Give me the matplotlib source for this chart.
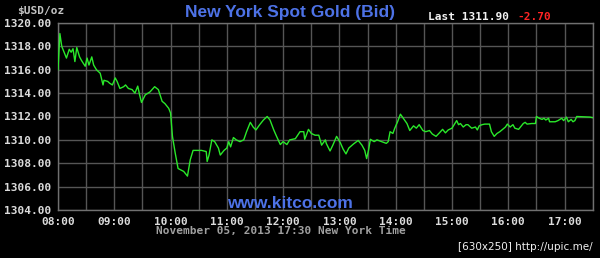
"""
New York spot gold (bid), intraday chart in the kitco style.
"""

import matplotlib

matplotlib.use("Agg")
import matplotlib.pyplot as plt
from matplotlib.ticker import FixedLocator, FuncFormatter

# minutes after 08:00 and bid price
minutes = [
    0, 2, 4, 7, 9, 12, 14, 16, 18, 20, 23, 25, 29, 31, 33, 36, 38, 41, 45, 48,
    49, 53, 55, 58, 61, 63, 66, 70, 72, 75, 79, 82, 85, 87, 89, 93, 96, 98,
    103, 107, 111, 114, 118, 120, 122, 125, 128, 134, 138, 141, 144, 148, 153,
    158, 159, 161, 164, 167, 171, 173, 177, 180, 182, 184, 187, 190, 194, 198,
    201, 205, 208, 211, 215, 219, 223, 226, 230, 233, 237, 240, 244, 247, 253,
    258, 262, 263, 267, 270, 274, 278, 281, 285, 286, 290, 293, 297, 301, 304,
    307, 310, 315, 320, 324, 327, 329, 331, 333, 337, 340, 345, 350, 352, 354,
    357, 359, 362, 365, 368, 372, 375, 379, 382, 385, 389, 392, 396, 399, 403,
    406, 410, 413, 416, 420, 423, 425, 427, 429, 432, 435, 437, 441, 445, 447,
    449, 452, 455, 460, 462, 465, 468, 471, 474, 477, 479, 482, 485, 487, 491,
    493, 496, 498, 500, 505, 509, 510, 513, 516, 518, 520, 523, 524, 530, 533,
    537, 539, 542, 544, 547, 549, 551, 553, 567, 570,
]
prices = [
    1316.0, 1319.1, 1318.0, 1317.4, 1317.0, 1317.75, 1317.5, 1317.8, 1316.7,
    1317.9, 1317.1, 1316.8, 1316.3, 1317.0, 1316.4, 1317.1, 1316.4, 1316.0,
    1315.7, 1314.7, 1315.1, 1315.0, 1314.85, 1314.7, 1315.3, 1315.0, 1314.4,
    1314.55, 1314.7, 1314.4, 1314.3, 1314.0, 1314.6, 1313.85, 1313.2, 1313.85,
    1314.0, 1314.1, 1314.55, 1314.3, 1313.3, 1313.1, 1312.7, 1312.3, 1310.3,
    1308.85, 1307.55, 1307.3, 1306.9, 1308.3, 1309.1, 1309.1, 1309.1, 1309.0,
    1308.15, 1308.7, 1310.0, 1309.85, 1309.3, 1308.7, 1309.1, 1309.3, 1309.85,
    1309.4, 1310.2, 1310.0, 1309.85, 1310.0, 1310.7, 1311.5, 1311.1, 1310.85,
    1311.3, 1311.7, 1312.0, 1311.7, 1310.85, 1310.3, 1309.6, 1309.85, 1309.6,
    1310.0, 1310.1, 1310.7, 1310.7, 1310.05, 1310.9, 1310.55, 1310.4, 1310.4,
    1309.55, 1310.0, 1309.7, 1309.05, 1309.55, 1310.3, 1309.75, 1309.2, 1308.8,
    1309.3, 1309.65, 1309.95, 1309.55, 1309.1, 1308.4, 1309.1, 1310.05,
    1309.85, 1310.0, 1309.85, 1309.7, 1309.85, 1310.7, 1310.55, 1311.0,
    1311.55, 1312.2, 1311.85, 1311.4, 1310.8, 1311.2, 1311.0, 1311.3, 1310.8,
    1310.7, 1310.8, 1310.5, 1310.3, 1310.55, 1310.9, 1310.6, 1310.85, 1311.0,
    1311.4, 1311.65, 1311.3, 1311.4, 1311.1, 1311.3, 1311.3, 1311.0, 1311.1,
    1310.85, 1311.2, 1311.3, 1311.35, 1311.35, 1310.7, 1310.3, 1310.55,
    1310.7, 1310.9, 1311.1, 1311.35, 1311.1, 1311.3, 1311.0, 1310.9, 1311.1,
    1311.4, 1311.5, 1311.35, 1311.4, 1311.4, 1312.0, 1311.85, 1311.75,
    1311.85, 1311.7, 1311.85, 1311.55, 1311.55, 1311.65, 1311.85, 1311.65,
    1311.95, 1311.55, 1311.75, 1311.55, 1311.65, 1312.0, 1311.95, 1311.9,
]

hour_ticks = [8, 9, 10, 11, 12, 13, 14, 15, 16, 17]
half_hours = [h + 0.5 for h in hour_ticks[:-1]] + [17.5]
price_ticks = [1304, 1306, 1308, 1310, 1312, 1314, 1316, 1318, 1320]

title = "New York Spot Gold (Bid)"
last_label = "Last 1311.90"
change_label = "-2.70"
footer = "November 05, 2013 17:30 New York Time"

BLUE = "#4d72e6"
MONO = "DejaVu Sans Mono"
SANS = "Liberation Sans"

hours = [8 + m / 60 for m in minutes]

fig = plt.figure(figsize=(6, 2.58), dpi=100, facecolor="black")
ax = fig.add_axes([58 / 600, 1 - 210 / 258, 534.7 / 600, 187 / 258])
ax.set_facecolor("black")

ax.plot(hours, prices, color="#2ae82a", linewidth=1.0, zorder=3)

ax.set_xlim(8, 17.5)
ax.set_ylim(1304, 1320)
ax.xaxis.set_major_locator(FixedLocator(hour_ticks))
ax.xaxis.set_minor_locator(FixedLocator(half_hours))
ax.xaxis.set_major_formatter(FuncFormatter(lambda v, _: f"{int(round(v)):02d}:00"))
ax.yaxis.set_major_locator(FixedLocator(price_ticks))
ax.yaxis.set_major_formatter(FuncFormatter(lambda v, _: f"{v:.2f}"))

ax.grid(True, which="both", color="#555555", linewidth=1.0, zorder=1)
ax.tick_params(which="both", length=0, colors="#dcdcdc")
ax.tick_params(axis="x", pad=5)
ax.tick_params(axis="y", pad=5)
for lab in ax.get_xticklabels() + ax.get_yticklabels():
    lab.set_fontfamily(MONO)
    lab.set_fontweight("bold")
    lab.set_fontsize(8)
for sp in ax.spines.values():
    sp.set_color("#707070")
    sp.set_linewidth(1.0)

fig.text(17 / 600, 1 - 11 / 258, r"\$USD/oz", color="#c4c4c4", family=MONO,
         weight="bold", fontsize=8, ha="left", va="center")
fig.text(290 / 600, 1 - 12 / 258, title, color=BLUE, family=SANS,
         weight="bold", fontsize=12.5, ha="center", va="center")
fig.text(428 / 600, 1 - 16.5 / 258, last_label, color="#f2f2f2", family=MONO,
         weight="bold", fontsize=8, ha="left", va="center")
fig.text(517 / 600, 1 - 16.5 / 258, change_label, color="#ff2424", family=MONO,
         weight="bold", fontsize=8, ha="left", va="center")
fig.text(290 / 600, 1 - 203 / 258, "www.kitco.com", color=BLUE, family=SANS,
         weight="bold", fontsize=12.5, ha="center", va="center")
fig.text(281 / 600, 1 - 231 / 258, footer, color="#a0a0a0", family=MONO,
         weight="bold", fontsize=8, ha="center", va="center")
fig.text(593 / 600, 1 - 247 / 258, "[630x250] http://upic.me/", color="#f0f0f0",
         family="DejaVu Sans", fontsize=7.5, ha="right", va="center")

fig.savefig("out.png", dpi=100, facecolor="black")
plt.close(fig)
